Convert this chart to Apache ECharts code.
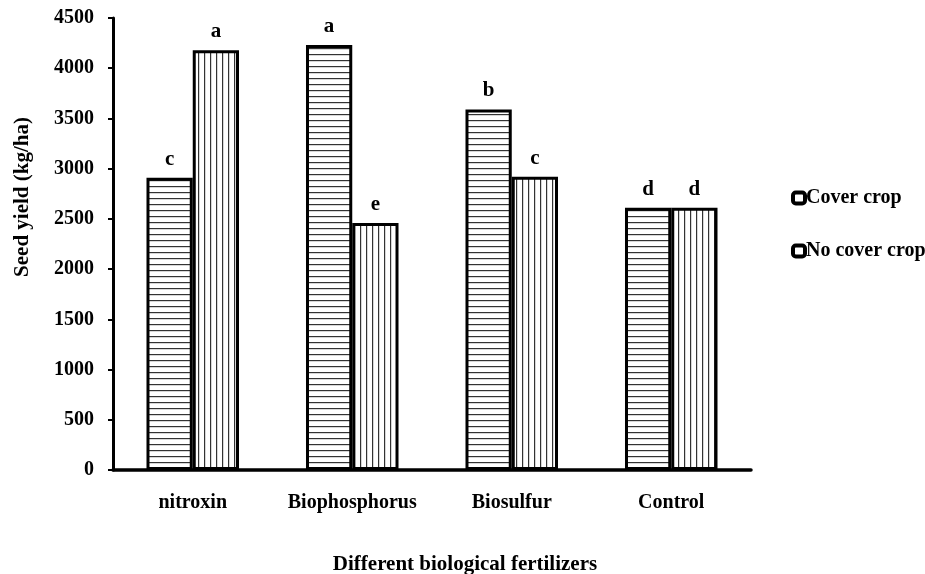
<!DOCTYPE html>
<html>
<head>
<meta charset="utf-8">
<script src="https://cdn.jsdelivr.net/npm/echarts@6/dist/echarts.min.js"></script>
<style>html,body{margin:0;padding:0;background:#fff}#c{width:925px;height:574px}</style>
</head>
<body>
<div id="c"></div>
<script>
var categories = ['nitroxin', 'Biophosphorus', 'Biosulfur', 'Control'];
var coverCrop = [2910, 4230, 3590, 2610];
var noCoverCrop = [4180, 2460, 2920, 2610];
var coverLetters = ['c', 'a', 'b', 'd'];
var noCoverLetters = ['a', 'e', 'c', 'd'];
var seriesNames = ['Cover crop', 'No cover crop'];
var yTicks = { min: 0, max: 4500, interval: 500 };

var FONT = '"Liberation Serif", "Times New Roman", serif';

function makePattern(horizontal) {
  var c = document.createElement('canvas');
  c.width = 6; c.height = 6;
  var ctx = c.getContext('2d');
  ctx.fillStyle = '#fff';
  ctx.fillRect(0, 0, 6, 6);
  ctx.fillStyle = '#333';
  if (horizontal) ctx.fillRect(0, 0, 6, 1.2);
  else ctx.fillRect(0, 0, 1.2, 6);
  return { image: c, repeat: 'repeat' };
}

var chart = echarts.init(document.getElementById('c'), null, { renderer: 'canvas' });

function labelFor(letters) {
  return {
    show: true,
    position: 'top',
    distance: 8,
    formatter: function (p) { return letters[p.dataIndex]; },
    fontFamily: FONT,
    fontWeight: 'bold',
    fontSize: 21,
    color: '#000'
  };
}

chart.setOption({
  animation: false,
  backgroundColor: '#fff',
  grid: { left: 113, right: 174, top: 18, bottom: 104, containLabel: false, outerBoundsMode: 'none' },
  legend: {
    orient: 'vertical',
    left: 786,
    top: 183,
    itemGap: 33,
    itemWidth: 12,
    itemHeight: 11,
    icon: 'roundRect',
    textStyle: { fontFamily: FONT, fontWeight: 'bold', fontSize: 20, color: '#000', padding: [0, 0, 0, -4] },
    data: [
      { name: seriesNames[0], itemStyle: { color: '#fff', borderColor: '#000', borderWidth: 4 } },
      { name: seriesNames[1], itemStyle: { color: '#fff', borderColor: '#000', borderWidth: 4 } }
    ]
  },
  xAxis: {
    type: 'category',
    data: categories,
    name: 'Different biological fertilizers',
    nameLocation: 'middle',
    nameGap: 84,
    nameTextStyle: { fontFamily: FONT, fontWeight: 'bold', fontSize: 21, color: '#000', padding: [0, 0, 0, 66] },
    axisLine: { lineStyle: { color: '#000', width: 3.5 } },
    axisTick: { show: false },
    axisLabel: { interval: 0, fontFamily: FONT, fontWeight: 'bold', fontSize: 20, color: '#000', margin: 23 }
  },
  yAxis: {
    type: 'value',
    min: yTicks.min,
    max: yTicks.max,
    interval: yTicks.interval,
    name: 'Seed yield (kg/ha)',
    nameLocation: 'middle',
    nameGap: 80,
    nameRotate: 90,
    nameTextStyle: { fontFamily: FONT, fontWeight: 'bold', fontSize: 21, color: '#000', padding: [0, 0, 0, 94] },
    splitLine: { show: false },
    axisLine: { show: true, lineStyle: { color: '#000', width: 3 } },
    axisTick: { show: true, length: 5, lineStyle: { color: '#000', width: 2 } },
    axisLabel: {
      fontFamily: FONT, fontWeight: 'bold', fontSize: 20, color: '#000', margin: 19,
      formatter: function (v) { return String(v); }
    }
  },
  series: [
    {
      name: seriesNames[0],
      type: 'bar',
      data: coverCrop,
      barGap: '0%',
      barCategoryGap: '42%',
      itemStyle: { color: makePattern(true), borderColor: '#000', borderWidth: 3 },
      label: labelFor(coverLetters)
    },
    {
      name: seriesNames[1],
      type: 'bar',
      data: noCoverCrop,
      barGap: '0%',
      barCategoryGap: '42%',
      itemStyle: { color: makePattern(false), borderColor: '#000', borderWidth: 3 },
      label: labelFor(noCoverLetters)
    }
  ]
});
</script>
</body>
</html>
